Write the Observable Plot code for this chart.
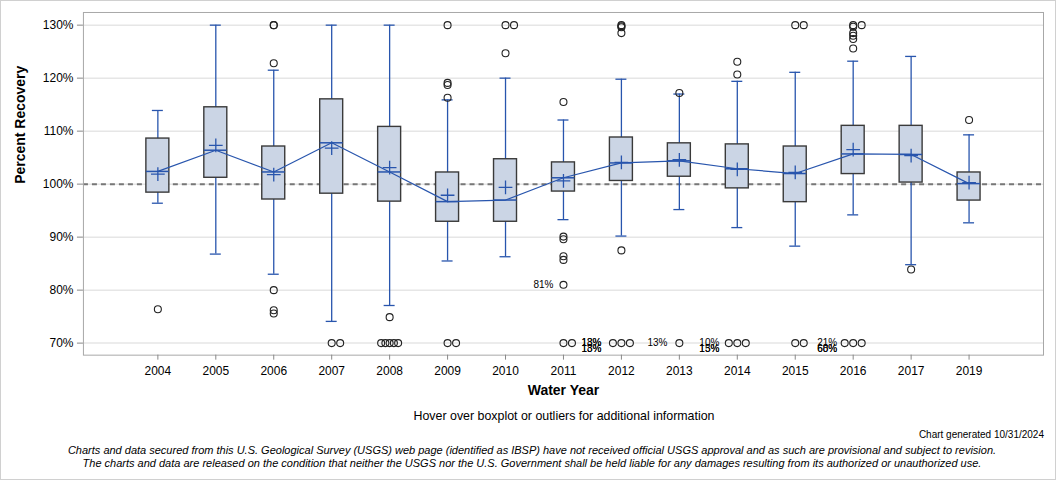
<!DOCTYPE html>
<html><head><meta charset="utf-8">
<script src="https://cdn.jsdelivr.net/npm/d3@7"></script>
<script src="https://cdn.jsdelivr.net/npm/@observablehq/plot@0.6"></script>
<style>
html,body{margin:0;padding:0;background:#fff;}
#wrap{position:relative;width:1056px;height:480px;box-sizing:border-box;border:1px solid #d0d0d0;font-family:"Liberation Sans",Arial,sans-serif;overflow:hidden;}
#chart{position:absolute;left:-1px;top:-1px;}
.t{position:absolute;white-space:nowrap;color:#000;}
</style></head><body>
<div id="wrap">
<div id="chart"></div>
<div class="t" style="left:0;width:1126px;top:408px;text-align:center;font-size:12.4px;">Hover over boxplot or outliers for additional information</div>
<div class="t" style="right:11px;top:428px;font-size:10px;">Chart generated 10/31/2024</div>
<div class="t" style="left:0;width:1062px;top:443px;text-align:center;font-size:11px;font-style:italic;line-height:13px;">Charts and data secured from this U.S. Geological Survey (USGS) web page (identified as IBSP) have not received official USGS approval and as such are provisional and subject to revision.<br>The charts and data are released on the condition that neither the USGS nor the U.S. Government shall be held liable for any damages resulting from its authorized or unauthorized use.</div>
</div>
<script>
const years   = ["2004","2005","2006","2007","2008","2009","2010","2011","2012","2013","2014","2015","2016","2017","2019"];
const whiskLo = [96.4, 86.8, 83.0, 74.1, 77.1, 85.5, 86.3, 93.3, 90.2, 95.2, 91.8, 88.3, 94.2, 84.8, 92.7];
const q1      = [98.4, 101.2, 97.1, 98.2, 96.7, 92.9, 92.9, 98.6, 100.6, 101.4, 99.2, 96.6, 101.9, 100.3, 96.9];
const median  = [102.4, 106.4, 102.3, 107.8, 102.3, 96.7, 97.0, 101.2, 104.0, 104.4, 102.9, 102.0, 105.7, 105.6, 100.1];
const q3      = [108.6, 114.5, 107.1, 116.0, 110.8, 102.2, 104.7, 104.1, 108.8, 107.7, 107.5, 107.1, 111.0, 111.0, 102.2];
const whiskHi = [113.9, 130.0, 121.5, 130.0, 130.0, 115.9, 120.0, 112.1, 119.8, 117.0, 119.4, 121.1, 123.2, 124.1, 109.3];
const mean    = [101.9, 107.3, 101.8, 106.8, 103.1, 97.9, 99.4, 100.6, 104.1, 104.6, 102.8, 102.2, 106.5, 105.4, 100.3];

// outliers: year, value, horizontal slot (k)
const outYear  = ["2004","2006","2006","2006","2006","2006","2006","2007","2007",
  "2008","2008","2008","2008","2008","2008",
  "2009","2009","2009","2009","2009","2009",
  "2010","2010","2010",
  "2011","2011","2011","2011","2011","2011","2011","2011",
  "2012","2012","2012","2012","2012","2012","2012","2012",
  "2013","2013",
  "2014","2014","2014","2014","2014",
  "2015","2015","2015","2015",
  "2016","2016","2016","2016","2016","2016","2016","2016","2016","2016",
  "2017","2019"];
const outValue = [76.4, 130, 122.8, 80.0, 76.2, 75.6, 130, 70, 70,
  74.9, 70, 70, 70, 70, 70,
  130, 119.1, 118.7, 116.3, 70, 70,
  130, 130, 124.7,
  115.5, 90.1, 89.6, 86.4, 85.7, 81.0, 70, 70,
  130, 129.8, 129.6, 128.5, 87.5, 70, 70, 70,
  117.2, 70,
  123.1, 120.7, 70, 70, 70,
  130, 130, 70, 70,
  130, 130, 129.7, 128.5, 128.0, 127.4, 125.6, 70, 70, 70,
  83.9, 112.1];
const outSlot  = [0, 0, 0, 0, 0, 0, 0, 0, 1,
  0, -1, -0.5, 0, 0.5, 1,
  0, 0, 0, 0, 0, 1,
  0, 1, 0,
  0, 0, 0, 0, 0, 0, 0, 1,
  0, 0, 0, 0, 0, -1, 0, 1,
  0, 0,
  0, 0, -1, 0, 1,
  0, 1, 0, 1,
  0, 1, 0, 0, 0, 0, 0, -1, 0, 1,
  0, 0];

// labels of off-scale values
const labYear  = ["2011","2012","2012","2012","2012","2013","2014","2014","2014","2016","2016","2016"];
const labValue = [81.0, 70, 70, 70, 70, 70, 70, 70, 70, 70, 70, 70];
const labText  = ["81%","13%","18%","13%","18%","13%","10%","13%","15%","21%","68%","60%"];
const labRow   = [0, 0, 0, 1, 1, 0, 0, 1, 1, 0, 1, 1];
const labShift = [-10, -20, -20, -20, -20, -12, -18, -18, -18, -16, -16, -16];

const yTicks = [70, 80, 90, 100, 110, 120, 130];

const boxes = years.map((y, i) => ({year: y, lo: whiskLo[i], q1: q1[i], med: median[i], q3: q3[i], hi: whiskHi[i], mean: mean[i]}));
const outs = outYear.map((y, i) => ({year: y, v: outValue[i], k: outSlot[i]}));
const labs = labYear.map((y, i) => ({year: y, v: labValue[i], t: labText[i], row: labRow[i], s: labShift[i]}));

const blue = "#2855ad";
const slots = [-1, -0.5, 0, 0.5, 1];
const labelMarks = [];
for (const s of [...new Set(labShift)]) for (const r of [0, 1]) {
  labelMarks.push(Plot.text(labs.filter(d => d.s === s && d.row === r), {x: "year", y: "v", text: "t", dx: s, dy: r * 6, textAnchor: "end", fontSize: 10, fill: "#000"}));
}

const chart = Plot.plot({
  width: 1056, height: 400,
  marginLeft: 83, marginRight: 12, marginTop: 12, marginBottom: 45,
  style: {fontFamily: "'Liberation Sans', Arial, sans-serif", fontSize: "12px", background: "#fff"},
  x: {type: "band", domain: years, paddingInner: 0.6, paddingOuter: 1.05, label: null},
  y: {domain: [67.73, 132.39], label: null},
  marks: [
    Plot.gridY(yTicks, {stroke: "#e6e6e6", strokeOpacity: 1, strokeWidth: 1.5}),
    Plot.ruleY([100], {stroke: "#777", strokeWidth: 2, strokeDasharray: "5,4"}),
    Plot.ruleX(boxes, {x: "year", y1: "lo", y2: "hi", stroke: blue, strokeWidth: 1.3}),
    Plot.tickY(boxes, {x: "year", y: "lo", stroke: blue, strokeWidth: 1.3, insetLeft: 6, insetRight: 6}),
    Plot.tickY(boxes, {x: "year", y: "hi", stroke: blue, strokeWidth: 1.3, insetLeft: 6, insetRight: 6}),
    Plot.barY(boxes, {x: "year", y1: "q1", y2: "q3", fill: "#cbd5e5", stroke: "#3a3a3a", strokeWidth: 1.4}),
    Plot.tickY(boxes, {x: "year", y: "med", stroke: blue, strokeWidth: 1.5}),
    Plot.line(boxes, {x: "year", y: "med", stroke: blue, strokeWidth: 1.2}),
    Plot.dot(boxes, {x: "year", y: "mean", symbol: "plus", r: 4.5, stroke: blue, strokeWidth: 1.3}),
    ...slots.map(k => Plot.dot(outs.filter(d => d.k === k), {x: "year", y: "v", r: 3.5, stroke: "#222", strokeWidth: 1.1, fill: "none", dx: k * 8.5})),
    ...labelMarks,
    Plot.frame({stroke: "#a8a8a8"}),
    Plot.axisY(yTicks, {tickFormat: d => d + "%", tickSize: 6, tickPadding: 4, fontSize: 12, stroke: "#888"}),
    Plot.axisX({tickSize: 5, tickPadding: 6, fontSize: 12, stroke: "#888", label: null}),
    Plot.text(["Percent Recovery"], {frameAnchor: "left", dx: -63, rotate: -90, fontSize: 14, fontWeight: "bold", fill: "#000"}),
    Plot.text(["Water Year"], {frameAnchor: "bottom", dy: 40, fontSize: 14, fontWeight: "bold", fill: "#000"})
  ]
});
document.getElementById("chart").appendChild(chart);
</script>
</body></html>
